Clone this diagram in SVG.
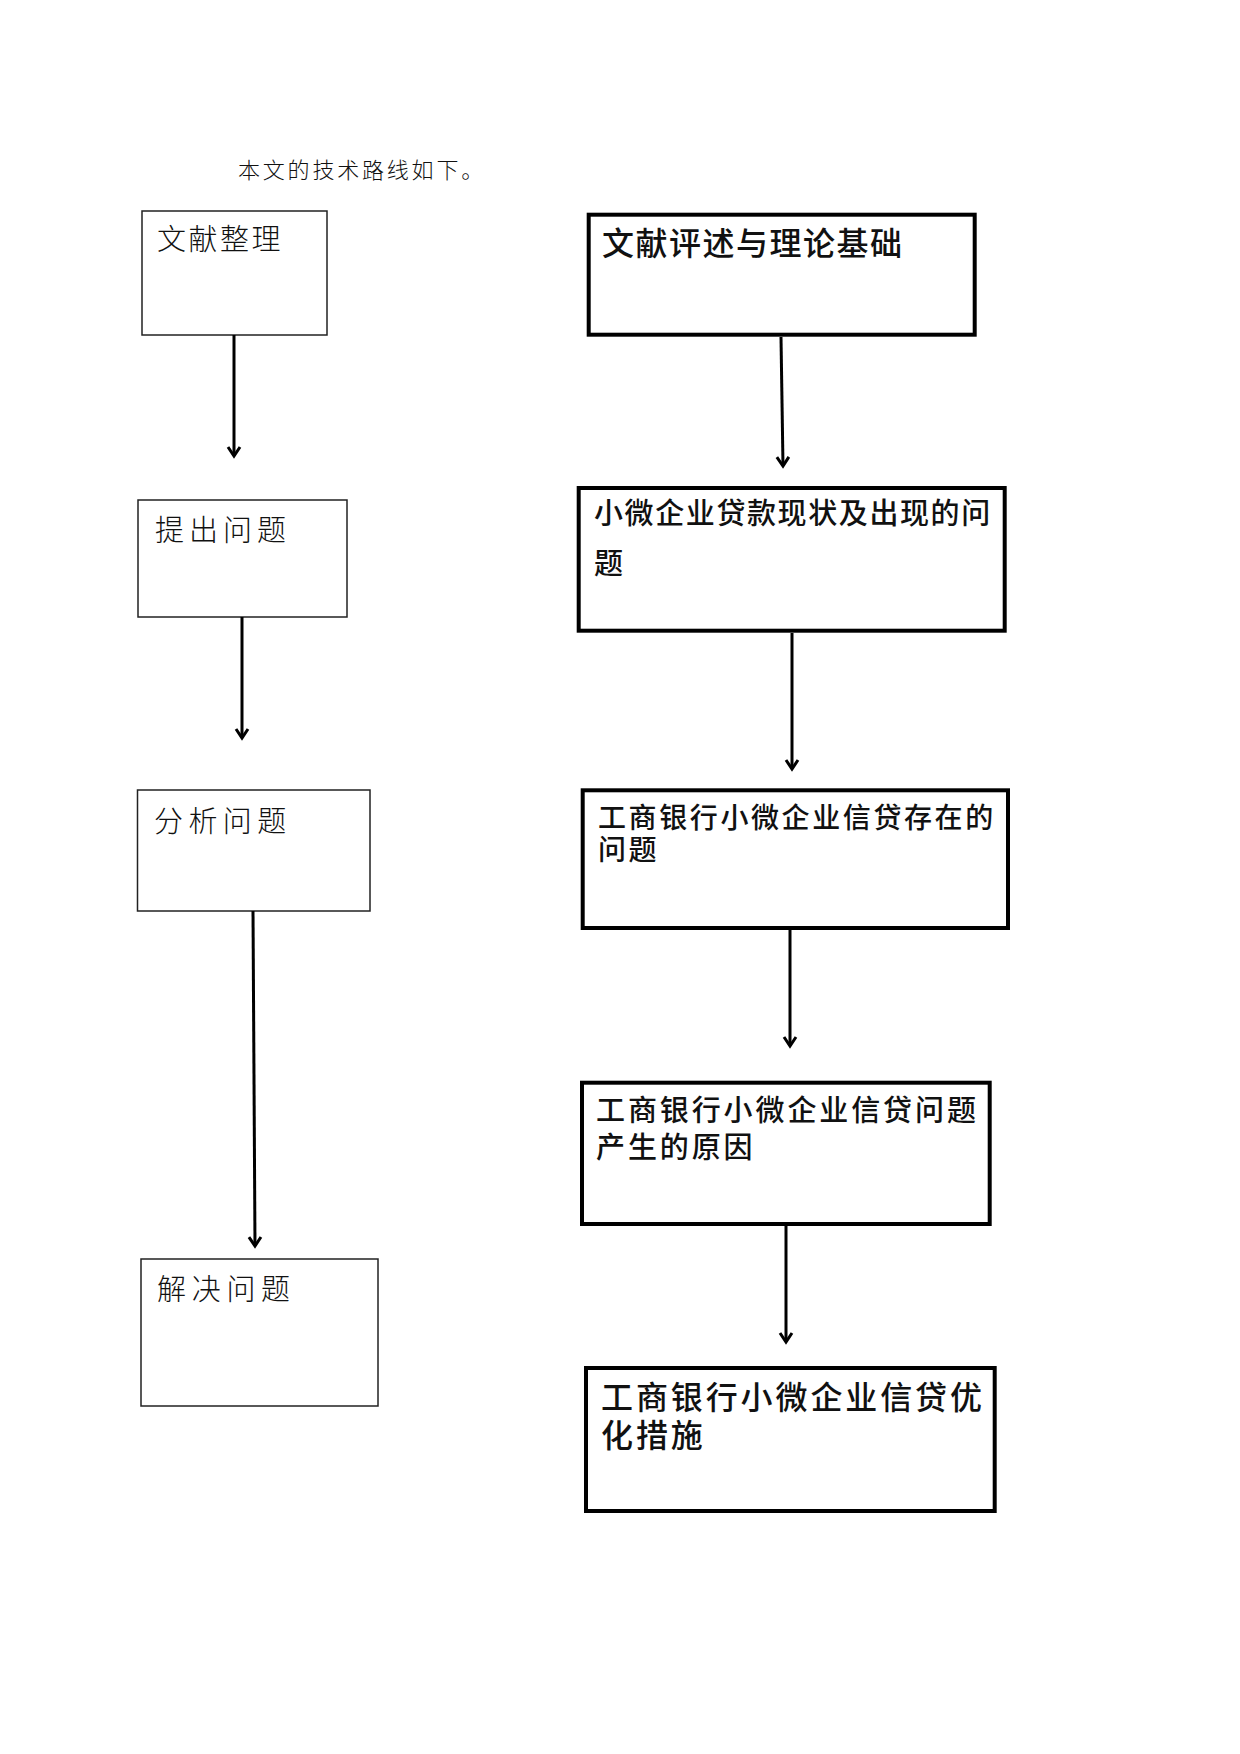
<svg xmlns="http://www.w3.org/2000/svg" width="1240" height="1754" viewBox="0 0 1240 1754">
<style>
  .bg { fill: #ffffff; }
  .thin { fill: #ffffff; stroke: #222222; stroke-width: 1.5; }
  .thick { fill: #ffffff; stroke: #000000; stroke-width: 4; }
  .lt { font-family: "Noto Sans CJK SC", "Liberation Serif", serif; font-weight: 300; fill: #111111; }
  .rt { font-family: "Noto Sans CJK SC", "Liberation Sans", sans-serif; font-weight: 500; fill: #111111; }
  .conn { stroke: #000000; stroke-width: 3; fill: none; marker-end: url(#arrow); }
</style>
<defs>
  <marker id="arrow" markerUnits="userSpaceOnUse" markerWidth="20" markerHeight="20" refX="0" refY="0" viewBox="-12 -10 14 20" orient="auto">
    <path d="M-9,-6 L0,0 L-9,6" fill="none" stroke="#000000" stroke-width="3"/>
  </marker>
</defs>
<rect class="bg" x="0" y="0" width="1240" height="1754"/>

<text class="lt" x="238" y="178" font-size="22" letter-spacing="2.8">本文的技术路线如下。</text>

<g id="n-wenxian-zhengli">
  <rect class="thin" x="142" y="211" width="185" height="124"/>
  <text class="lt" x="157" y="250" font-size="29" letter-spacing="2.5">文献整理</text>
</g>
<g id="n-tichu">
  <rect class="thin" x="138" y="500" width="209" height="117"/>
  <text class="lt" x="155" y="541" font-size="29" letter-spacing="5">提出问题</text>
</g>
<g id="n-fenxi">
  <rect class="thin" x="137.5" y="790" width="232.5" height="121"/>
  <text class="lt" x="154" y="832" font-size="29" letter-spacing="5.4">分析问题</text>
</g>
<g id="n-jiejue">
  <rect class="thin" x="141" y="1259" width="237" height="147"/>
  <text class="lt" x="157" y="1300" font-size="29" letter-spacing="5.7">解决问题</text>
</g>

<g id="n-wenxian-pingshu">
  <rect class="thick" x="588.7" y="214.7" width="386" height="120"/>
  <text class="rt" x="602" y="255" font-size="32" letter-spacing="1.5">文献评述与理论基础</text>
</g>
<g id="n-xianzhuang">
  <rect class="thick" x="578.7" y="488" width="426" height="142.7"/>
  <text class="rt" font-size="29" letter-spacing="1.6">
    <tspan x="594" y="524">小微企业贷款现状及出现的问</tspan>
    <tspan x="594" y="574">题</tspan>
  </text>
</g>
<g id="n-cunzai">
  <rect class="thick" x="582.7" y="790.3" width="425.3" height="137.7"/>
  <text class="rt" font-size="28" letter-spacing="2.6">
    <tspan x="598" y="828">工商银行小微企业信贷存在的</tspan>
    <tspan x="598" y="860">问题</tspan>
  </text>
</g>
<g id="n-yuanyin">
  <rect class="thick" x="582" y="1082.7" width="407.7" height="141.3"/>
  <text class="rt" font-size="29" letter-spacing="2.9">
    <tspan x="596" y="1121">工商银行小微企业信贷问题</tspan>
    <tspan x="596" y="1158">产生的原因</tspan>
  </text>
</g>
<g id="n-youhua">
  <rect class="thick" x="586" y="1368" width="408.7" height="143"/>
  <text class="rt" font-size="32" letter-spacing="2.9">
    <tspan x="601" y="1409">工商银行小微企业信贷优</tspan>
    <tspan x="601" y="1447">化措施</tspan>
  </text>
</g>

<g id="connectors">
  <line class="conn" x1="234" y1="335" x2="234" y2="456"/>
  <line class="conn" x1="242" y1="617" x2="242" y2="738"/>
  <line class="conn" x1="253" y1="911" x2="255" y2="1246"/>
  <line class="conn" x1="781" y1="337" x2="783" y2="466"/>
  <line class="conn" x1="792" y1="633" x2="792" y2="769"/>
  <line class="conn" x1="790" y1="930" x2="790" y2="1046"/>
  <line class="conn" x1="786" y1="1226" x2="786" y2="1342"/>
</g>
</svg>
